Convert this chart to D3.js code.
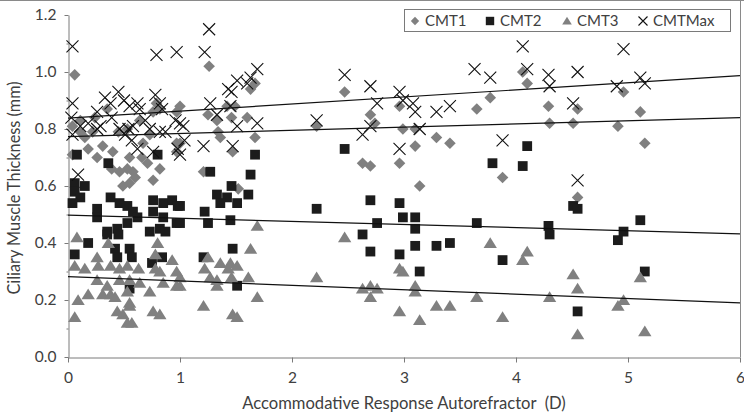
<!DOCTYPE html>
<html><head><meta charset="utf-8">
<script src="https://d3js.org/d3.v7.min.js"></script>
<style>body{margin:0;background:#fff}svg{display:block}</style>
</head><body><svg id="c" width="744" height="414"></svg>
<script>
const seriesNames = ["CMT1","CMT2","CMT3","CMTMax"];
const xTicks = [0,1,2,3,4,5,6];
const yTicks = [0,0.2,0.4,0.6,0.8,1.0,1.2];
const yMinor = [0.1,0.3,0.5,0.7,0.9,1.1];
// trend lines: value at x=0 and at x=6
const trendCMT1 = [0.773, 0.840];
const trendCMT2 = [0.498, 0.432];
const trendCMT3 = [0.282, 0.190];
const trendMax = [0.838, 0.987];

const cmt1 = [[0.06,0.99],[0.97,0.86],[0.82,0.87],[0.79,0.89],[0.35,0.87],[0.04,0.71],[0.18,0.73],[0.26,0.70],[0.31,0.74],[0.15,0.77],[0.40,0.72],[0.46,0.65],[0.53,0.66],[0.58,0.65],[0.49,0.60],[0.55,0.61],[0.60,0.63],[0.66,0.70],[0.71,0.68],[0.82,0.66],[0.76,0.62],[0.97,0.75],[0.97,0.72],[0.55,0.70],[0.39,0.66],[0.67,0.75],[0.45,0.79],[0.11,0.79],[0.22,0.79],[0.53,0.80],[0.73,0.78],[0.76,0.86],[0.11,0.83],[0.04,0.81],[0.24,0.84],[0.64,0.83],
[1.26,1.02],[1.67,0.96],[1.63,0.94],[1.42,0.88],[1.49,0.88],[1.25,0.85],[1.33,0.83],[1.46,0.84],[1.60,0.84],[1.34,0.79],[1.36,0.77],[1.67,0.77],[1.47,0.72],[1.00,0.88],[1.00,0.75],[1.21,0.65],[1.52,0.59],
[2.47,0.93],[2.22,0.81],[2.70,0.85],[2.74,0.82],[2.96,0.88],[2.99,0.80],[3.10,0.80],[3.10,0.74],[3.29,0.77],[3.41,0.75],[2.63,0.68],[2.70,0.67],[2.96,0.68],[3.14,0.60],[3.65,0.87],[3.77,0.91],
[4.06,1.00],[4.10,0.96],[4.29,0.88],[4.30,0.82],[4.55,0.87],[4.51,0.82],[4.96,0.93],[5.11,0.86],[4.91,0.81],[5.15,0.75],[3.88,0.63],[4.55,0.56]];

const cmt2 = [[0.08,0.71],[0.36,0.68],[0.80,0.71],[0.06,0.61],[0.15,0.60],[0.06,0.58],[0.11,0.56],[0.04,0.54],[0.38,0.56],[0.46,0.54],[0.53,0.53],[0.26,0.52],[0.26,0.49],[0.58,0.51],[0.62,0.49],[0.53,0.47],[0.44,0.45],[0.35,0.44],[0.76,0.55],[0.85,0.54],[0.93,0.55],[0.98,0.53],[0.76,0.51],[0.85,0.49],[0.97,0.47],[0.82,0.45],[0.35,0.43],[0.45,0.43],[0.73,0.44],[0.87,0.44],[0.18,0.40],[0.06,0.36],[0.42,0.38],[0.55,0.38],[0.57,0.35],[0.44,0.35],[0.75,0.33],[0.84,0.35],[0.55,0.24],
[1.67,0.71],[1.27,0.65],[1.63,0.64],[1.46,0.60],[1.00,0.53],[1.33,0.57],[1.42,0.56],[1.61,0.57],[1.36,0.54],[1.51,0.54],[1.22,0.51],[1.25,0.47],[1.45,0.48],[1.00,0.47],[1.47,0.38],[1.21,0.35],[1.51,0.25],
[2.47,0.73],[2.22,0.52],[2.70,0.55],[2.96,0.54],[2.76,0.47],[2.99,0.49],[3.10,0.49],[3.10,0.45],[2.63,0.43],[2.70,0.37],[2.96,0.36],[3.10,0.39],[3.14,0.30],[3.29,0.39],[3.41,0.40],[3.65,0.47],[3.88,0.34],
[4.10,0.74],[3.79,0.68],[4.06,0.67],[4.51,0.53],[4.55,0.52],[4.29,0.46],[4.30,0.43],[5.11,0.48],[4.96,0.44],[4.91,0.41],[5.15,0.30],[4.55,0.16]];

const cmt3 = [[0.08,0.42],[0.36,0.40],[0.80,0.40],[0.06,0.32],[0.15,0.31],[0.26,0.35],[0.27,0.32],[0.38,0.32],[0.26,0.27],[0.46,0.31],[0.53,0.32],[0.63,0.31],[0.46,0.27],[0.55,0.27],[0.64,0.26],[0.78,0.36],[0.78,0.31],[0.82,0.30],[0.93,0.34],[0.97,0.30],[0.85,0.26],[0.97,0.25],[0.35,0.25],[0.38,0.22],[0.31,0.22],[0.42,0.21],[0.53,0.23],[0.73,0.23],[0.18,0.22],[0.09,0.20],[0.55,0.19],[0.55,0.18],[0.06,0.14],[0.44,0.16],[0.49,0.15],[0.53,0.12],[0.57,0.12],[0.76,0.16],[0.82,0.15],
[1.69,0.46],[1.63,0.38],[1.25,0.35],[1.22,0.31],[1.36,0.33],[1.45,0.33],[1.43,0.31],[1.51,0.32],[1.00,0.28],[1.00,0.25],[1.27,0.28],[1.33,0.27],[1.33,0.25],[1.46,0.28],[1.61,0.28],[1.21,0.18],[1.69,0.21],[1.47,0.15],[1.51,0.14],
[2.47,0.42],[2.22,0.28],[2.63,0.24],[2.70,0.25],[2.76,0.24],[2.70,0.21],[2.96,0.31],[2.99,0.30],[3.10,0.25],[3.10,0.23],[2.96,0.16],[3.14,0.13],[3.29,0.18],[3.41,0.18],[3.65,0.21],[3.77,0.40],
[4.10,0.37],[4.06,0.34],[4.51,0.29],[4.55,0.24],[4.30,0.21],[3.88,0.14],[4.96,0.20],[4.91,0.18],[5.11,0.28],[4.55,0.08],[5.15,0.09]];

const cmtMax = [[0.04,1.09],[0.79,1.06],[0.97,1.07],[0.04,0.89],[0.03,0.84],[0.11,0.81],[0.18,0.82],[0.26,0.86],[0.33,0.91],[0.38,0.89],[0.45,0.93],[0.50,0.90],[0.55,0.88],[0.62,0.89],[0.29,0.81],[0.39,0.84],[0.46,0.80],[0.54,0.80],[0.58,0.81],[0.64,0.87],[0.69,0.83],[0.78,0.92],[0.82,0.89],[0.84,0.87],[0.73,0.80],[0.96,0.83],[1.03,0.81],[0.87,0.79],[1.04,0.76],[0.09,0.64],[0.04,0.78],[0.26,0.80],[0.51,0.78],[0.57,0.76],[0.62,0.73],[0.82,0.79],[0.98,0.73],[0.76,0.72],
[1.26,1.15],[1.22,1.07],[1.69,1.01],[1.63,0.98],[1.51,0.97],[1.43,0.94],[1.46,0.93],[1.60,0.96],[1.27,0.89],[1.33,0.85],[1.45,0.88],[1.51,0.81],[1.69,0.82],[1.21,0.74],[1.47,0.74],[1.00,0.82],[1.00,0.71],
[2.47,0.99],[2.22,0.83],[2.70,0.95],[2.76,0.89],[2.96,0.93],[2.99,0.90],[3.08,0.89],[3.10,0.86],[2.63,0.78],[2.70,0.81],[2.96,0.73],[3.14,0.80],[3.29,0.86],[3.41,0.88],[3.63,1.01],[3.77,0.98],
[4.06,1.09],[4.96,1.08],[4.10,1.01],[4.29,0.99],[4.30,0.95],[4.55,1.00],[4.51,0.89],[4.90,0.95],[5.11,0.98],[5.15,0.96],[3.88,0.76],[4.55,0.62]];

const W=744,H=414;
const m={l:68,r:740,t:15,b:357};
const x=d3.scaleLinear().domain([0,6]).range([m.l,m.r]);
const y=d3.scaleLinear().domain([0,1.2]).range([m.b,m.t]);
const svg=d3.select("#c");
const font="Lato, 'Open Sans', sans-serif";
const txt="#404040", axc="#7a7a7a";

// chart border (top/right)
svg.append("line").attr("x1",0).attr("x2",W).attr("y1",0.5).attr("y2",0.5).attr("stroke","#8a8a8a");
svg.append("line").attr("x1",m.r+0.5).attr("x2",m.r+0.5).attr("y1",0).attr("y2",m.b).attr("stroke","#8a8a8a");

// axes
const xAxis=svg.append("g").attr("transform",`translate(0,${m.b+0.5})`)
  .call(d3.axisBottom(x).tickValues(xTicks).tickFormat(d3.format("d")).tickSize(5).tickSizeOuter(0));
const yAxis=svg.append("g").attr("transform",`translate(${m.l+0.5},0)`)
  .call(d3.axisLeft(y).tickValues(yTicks).tickFormat(d3.format(".1f")).tickSize(4).tickPadding(8).tickSizeOuter(0));
svg.append("g").attr("transform",`translate(${m.l+0.5},0)`)
  .call(d3.axisLeft(y).tickValues(yMinor).tickFormat("").tickSize(2).tickSizeOuter(0))
  .select(".domain").remove();
svg.selectAll(".domain").attr("stroke",axc);
svg.selectAll(".tick line").attr("stroke",axc);
svg.selectAll(".tick text").attr("fill",txt).style("font-family",font).style("font-size","15.5px");
xAxis.selectAll(".tick text").attr("dy","1.1em");

// titles
svg.append("text").attr("x",404).attr("y",409).attr("text-anchor","middle")
  .attr("fill",txt).style("font-family",font).style("font-size","16.6px").style("white-space","pre")
  .text("Accommodative Response Autorefractor  (D)");
svg.append("text").attr("transform","translate(20,188) rotate(-90)").attr("text-anchor","middle")
  .attr("fill",txt).style("font-family",font).style("font-size","16.3px")
  .text("Ciliary Muscle Thickness (mm)");

// marker path generators
const diamond=(s)=>`M0,${-s}L${s},0L0,${s}L${-s},0Z`;
const square=(s)=>`M${-s},${-s}H${s}V${s}H${-s}Z`;
const tri=(s)=>`M0,${-s}L${s*1.15},${s*0.85}L${-s*1.15},${s*0.85}Z`;
const cross=(s)=>`M${-s},${-s}L${s},${s}M${-s},${s}L${s},${-s}`;

const gPts=svg.append("g");
gPts.selectAll(".d").data(cmt1).join("path").attr("d",diamond(5.8))
  .attr("transform",d=>`translate(${x(d[0])},${y(d[1])})`).attr("fill","#808080");
gPts.selectAll(".s").data(cmt2).join("path").attr("d",square(4.9))
  .attr("transform",d=>`translate(${x(d[0])},${y(d[1])})`).attr("fill","#1c1c1c");
gPts.selectAll(".t").data(cmt3).join("path").attr("d",tri(5.8))
  .attr("transform",d=>`translate(${x(d[0])},${y(d[1])})`).attr("fill","#808080");
gPts.selectAll(".x").data(cmtMax).join("path").attr("d",cross(6))
  .attr("transform",d=>`translate(${x(d[0])},${y(d[1])})`).attr("fill","none").attr("stroke","#111").attr("stroke-width",1.1);

// trend lines
[trendCMT1,trendCMT2,trendCMT3,trendMax].forEach(t=>{
  svg.append("line").attr("x1",x(0)).attr("y1",y(t[0])).attr("x2",x(6)).attr("y2",y(t[1]))
    .attr("stroke","#111").attr("stroke-width",1.2);
});

// legend
const lg=svg.append("g");
lg.append("rect").attr("x",404.5).attr("y",9.5).attr("width",326).attr("height",22)
  .attr("fill","#fff").attr("stroke","#7a7a7a");
const legX=[415,490,567,643];
const legShapes=[[diamond(4.2),"#808080",null],[square(4.2),"#1c1c1c",null],[tri(4.2),"#808080",null],[cross(4.5),"none","#111"]];
seriesNames.forEach((n,i)=>{
  const p=lg.append("path").attr("d",legShapes[i][0]).attr("transform",`translate(${legX[i]},21)`)
    .attr("fill",legShapes[i][1]);
  if(legShapes[i][2]) p.attr("stroke",legShapes[i][2]).attr("stroke-width",1.1);
  lg.append("text").attr("x",legX[i]+10).attr("y",26).attr("fill",txt)
    .style("font-family",font).style("font-size","15px").text(n);
});
</script></body></html>
